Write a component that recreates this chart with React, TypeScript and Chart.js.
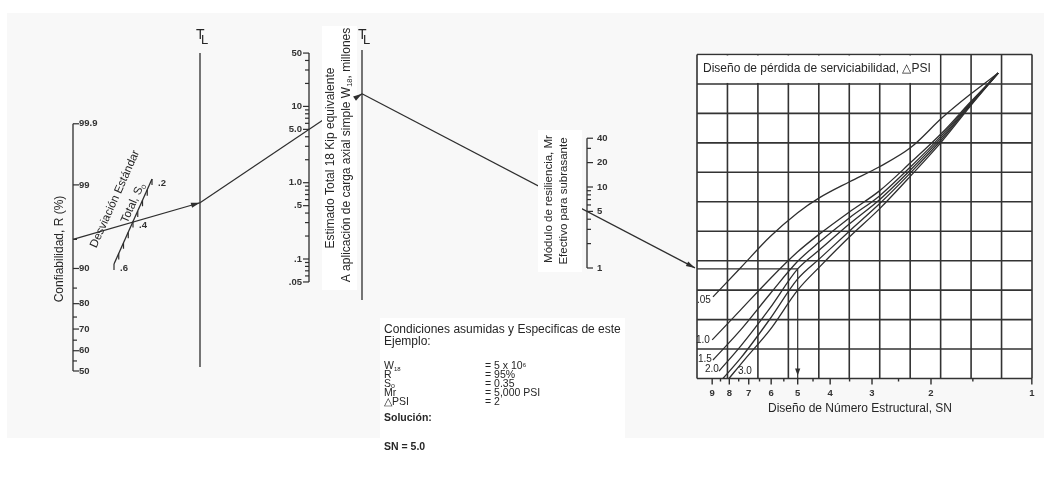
import { useEffect, useRef } from "react";
import { Chart, registerables } from "chart.js";
Chart.register(...registerables);

// ---------------- data ----------------
const reliabilityTicks = [99.9, 99, 95, 90, 85, 80, 75, 70, 65, 60, 55, 50];
const reliabilityLabels = [99.9, 99, 90, 80, 70, 60, 50];
const reliabilityText = ["99.9", "99", "90", "80", "70", "60", "50"];

const soTicks = [0.2, 0.25, 0.3, 0.35, 0.4, 0.45, 0.5, 0.55, 0.6];
const soLabels = [0.2, 0.4, 0.6];
const soText = [".2", ".4", ".6"];

const w18Ticks = [50, 40, 30, 20, 10, 9, 8, 7, 6, 5, 4, 3, 2, 1, 0.9, 0.8, 0.7, 0.6, 0.5, 0.4, 0.3, 0.2, 0.1, 0.09, 0.08, 0.07, 0.06, 0.05];
const w18Labels = [50, 10, 5, 1, 0.5, 0.1, 0.05];
const w18Text = ["50", "10", "5.0", "1.0", ".5", ".1", ".05"];

const mrTicks = [40, 30, 20, 10, 9, 8, 7, 6, 5, 4, 3, 2, 1];
const mrLabels = [40, 20, 10, 5, 1];
const mrText = ["40", "20", "10", "5", "1"];

const snTicks = [9, 8.5, 8, 7.5, 7, 6.5, 6, 5.5, 5, 4.5, 4, 3.5, 3, 2.5, 2, 1.5, 1];
const snLabels = [9, 8, 7, 6, 5, 4, 3, 2, 1];

// design curves (SN vs chart row units, 0 = bottom of grid, 11 = top)
const psiNames = [".05", "1.0", "1.5", "2.0", "2.5", "3.0"];
const psi05SN = [8.95, 7.4, 6.05, 5.0, 4.3, 3.5, 2.85, 2.3, 1.85, 1.53, 1.26];
const psi05Row = [2.77, 3.76, 4.81, 5.63, 6.14, 6.68, 7.19, 7.84, 8.86, 9.64, 10.37];
const psi10SN = [9.0, 7.4, 6.05, 5.0, 4.3, 3.5, 2.85, 2.3, 1.85, 1.53, 1.26];
const psi10Row = [1.31, 2.33, 3.38, 4.3, 4.91, 5.66, 6.37, 7.33, 8.35, 9.37, 10.37];
const psi15SN = [8.95, 7.4, 6.05, 5.0, 4.3, 3.5, 2.85, 2.3, 1.85, 1.53, 1.26];
const psi15Row = [0.63, 1.65, 2.87, 3.98, 4.64, 5.46, 6.2, 7.19, 8.28, 9.33, 10.37];
const psi20SN = [8.59, 7.4, 6.05, 5.0, 4.3, 3.5, 2.85, 2.3, 1.85, 1.53, 1.26];
const psi20Row = [0.25, 1.1, 2.39, 3.72, 4.37, 5.25, 6.07, 7.09, 8.21, 9.3, 10.37];
const psi25SN = [8.36, 7.4, 6.05, 5.0, 4.3, 3.5, 2.85, 2.3, 1.85, 1.53, 1.26];
const psi25Row = [0, 0.69, 2.02, 3.38, 4.07, 5.01, 5.93, 6.99, 8.14, 9.27, 10.37];
const psi30SN = [8.02, 7.18, 6.05, 5.0, 4.3, 3.5, 2.85, 2.3, 1.85, 1.53, 1.26];
const psi30Row = [0, 0.66, 1.65, 3.0, 3.79, 4.81, 5.76, 6.88, 8.07, 9.23, 10.37];
const psiSN = [psi05SN, psi10SN, psi15SN, psi20SN, psi25SN, psi30SN];
const psiRow = [psi05Row, psi10Row, psi15Row, psi20Row, psi25Row, psi30Row];

// worked example
const exR = 95;
const exSo = 0.35;
const exW18 = 5;
const exMr = 5;
const exPSI = "2.0";
const exSN = 5.0;

// ---------------- layout ----------------
const W = 1044, H = 487;
const FONT = '"Liberation Sans", Arial, sans-serif';
const INK = "#2e2e2e";
const TXT = "#262626";

const R_X = 73, R_ZERO = 371, R_UNIT = 80;
const TL1_X = 200, TL2_X = 362;
const W_X = 309, W_A = 182.7, W_B = 76.3;
const MR_X = 587, MR_A = 268, MR_B = 81;
const SO_TOP = { x: 152, y: 179 }, SO_BOT = { x: 114, y: 264 };
const G_LEFT = 697, G_RIGHT = 1032, G_TOP = 54.5, G_BOTTOM = 378.5, NCOL = 11, NROW = 11;
const SN_REF = 931, SN_B = 335;

function invNorm(p: number): number {
  const a = [-3.969683028665376e1, 2.209460984245205e2, -2.759285104469687e2, 1.38357751867269e2, -3.066479806614716e1, 2.506628277459239];
  const b = [-5.447609879822406e1, 1.615858368580409e2, -1.556989798598866e2, 6.680131188771972e1, -1.328068155288572e1];
  const c = [-7.784894002430293e-3, -3.223964580411365e-1, -2.400758277161838, -2.549732539343734, 4.374664141464968, 2.938163982698783];
  const d = [7.784695709041462e-3, 3.224671290700398e-1, 2.445134137142996, 3.754408661907416];
  const pl = 0.02425;
  let q: number, r: number;
  if (p < pl) {
    q = Math.sqrt(-2 * Math.log(p));
    return (((((c[0] * q + c[1]) * q + c[2]) * q + c[3]) * q + c[4]) * q + c[5]) / ((((d[0] * q + d[1]) * q + d[2]) * q + d[3]) * q + 1);
  }
  if (p <= 1 - pl) {
    q = p - 0.5; r = q * q;
    return ((((((a[0] * r + a[1]) * r + a[2]) * r + a[3]) * r + a[4]) * r + a[5]) * q) / (((((b[0] * r + b[1]) * r + b[2]) * r + b[3]) * r + b[4]) * r + 1);
  }
  q = Math.sqrt(-2 * Math.log(1 - p));
  return -(((((c[0] * q + c[1]) * q + c[2]) * q + c[3]) * q + c[4]) * q + c[5]) / ((((d[0] * q + d[1]) * q + d[2]) * q + d[3]) * q + 1);
}
const yR = (r: number) => R_ZERO - R_UNIT * invNorm(r / 100);
const yW = (w: number) => W_A - W_B * Math.log10(w);
const yMr = (m: number) => MR_A - MR_B * Math.log10(m);
const soPt = (s: number) => {
  const t = (s - 0.2) / 0.4;
  return { x: SO_TOP.x + (SO_BOT.x - SO_TOP.x) * t, y: SO_TOP.y + (SO_BOT.y - SO_TOP.y) * t };
};
const xSN = (sn: number) => SN_REF - SN_B * Math.log10(sn / 2);
const rowH = (G_BOTTOM - G_TOP) / NROW;
const colW = (G_RIGHT - G_LEFT) / NCOL;
const yRow = (r: number) => G_BOTTOM - r * rowH;
type P = { x: number; y: number };
const lineAt = (a: P, b: P, x: number) => a.y + ((b.y - a.y) * (x - a.x)) / (b.x - a.x);

// solution path (worked back from the design chart through the pivots)
const entryRow = psiRow[psiNames.indexOf(exPSI)][psiSN[psiNames.indexOf(exPSI)].indexOf(exSN)];
const P3 = { x: G_LEFT, y: yRow(entryRow) };
const Mp = { x: MR_X, y: yMr(exMr) };
const P2 = { x: TL2_X, y: lineAt(P3, Mp, TL2_X) };
const Wp = { x: W_X, y: yW(exW18) };
const P1 = { x: TL1_X, y: lineAt(P2, Wp, TL1_X) };
const Rp = { x: R_X, y: yR(exR) };
const Sx = xSN(exSN);

type Run = { t: string; size: number; dy?: number; bold?: boolean };

export default function App() {
  const ref = useRef<HTMLCanvasElement>(null);
  useEffect(() => {
    const canvas = ref.current!;
    const lineDs = (pts: P[], width = 1.3, extra: any = {}) => ({
      data: pts.map((p) => ({ x: p.x, y: p.y })),
      showLine: true,
      borderColor: INK,
      borderWidth: width,
      pointRadius: 0,
      fill: false,
      ...extra,
    });

    const datasets: any[] = [
      lineDs([{ x: R_X, y: yR(99.9) }, { x: R_X, y: yR(50) }]),
      lineDs([{ x: TL1_X, y: 53 }, { x: TL1_X, y: 367 }]),
      lineDs([{ x: TL2_X, y: 50 }, { x: TL2_X, y: 300 }]),
      lineDs([{ x: W_X, y: yW(50) }, { x: W_X, y: yW(0.05) }]),
      lineDs([{ x: MR_X, y: yMr(40) }, { x: MR_X, y: yMr(1) }]),
      lineDs([soPt(0.2), soPt(0.6)]),
      lineDs([Rp, P1], 1.2),
      lineDs([P1, P2], 1.2),
      lineDs([P2, { x: G_LEFT - 2, y: lineAt(P2, Mp, G_LEFT - 2) }], 1.2),
      lineDs([P3, { x: Sx, y: P3.y }, { x: Sx, y: G_BOTTOM }], 1.2),
    ];
    psiSN.forEach((sns, i) => {
      datasets.push(
        lineDs(
          sns.map((s, k) => ({ x: xSN(s), y: yRow(psiRow[i][k]) })),
          1.3,
          { cubicInterpolationMode: "monotone" }
        )
      );
    });

    const drawRuns = (ctx: CanvasRenderingContext2D, runs: Run[], x: number, y: number, align: "left" | "center" | "right", rot = 0, color = TXT) => {
      ctx.save();
      ctx.translate(x, y);
      ctx.rotate(rot);
      ctx.textBaseline = "middle";
      ctx.textAlign = "left";
      ctx.fillStyle = color;
      const widths = runs.map((r) => {
        ctx.font = `${r.bold ? "bold " : ""}${r.size}px ${FONT}`;
        return ctx.measureText(r.t).width;
      });
      const total = widths.reduce((a, b) => a + b, 0);
      let cx = align === "left" ? 0 : align === "center" ? -total / 2 : -total;
      runs.forEach((r, i) => {
        ctx.font = `${r.bold ? "bold " : ""}${r.size}px ${FONT}`;
        ctx.fillText(r.t, cx, r.dy || 0);
        cx += widths[i];
      });
      ctx.restore();
    };

    const plugin = {
      id: "nomograph",
      beforeDatasetsDraw(chart: any) {
        const ctx: CanvasRenderingContext2D = chart.ctx;
        const X = (v: number) => chart.scales.x.getPixelForValue(v);
        const Y = (v: number) => chart.scales.y.getPixelForValue(v);
        ctx.save();
        ctx.fillStyle = "#ffffff";
        ctx.fillRect(0, 0, W, H);
        ctx.fillStyle = "#f8f8f8";
        ctx.fillRect(X(7), Y(13), X(1044) - X(7), Y(438) - Y(13));
        // chart interior
        ctx.fillStyle = "#ffffff";
        ctx.fillRect(X(G_LEFT), Y(G_TOP), X(G_RIGHT) - X(G_LEFT), Y(G_BOTTOM) - Y(G_TOP));
        // grid
        ctx.strokeStyle = "#333";
        ctx.lineWidth = 1.6;
        ctx.beginPath();
        for (let i = 0; i <= NCOL; i++) {
          const x = X(G_LEFT + i * colW);
          ctx.moveTo(x, Y(G_TOP));
          ctx.lineTo(x, Y(G_BOTTOM));
        }
        for (let j = 0; j <= NROW; j++) {
          const y = Y(G_TOP + j * rowH);
          ctx.moveTo(X(G_LEFT), y);
          ctx.lineTo(X(G_RIGHT), y);
        }
        ctx.stroke();
        // header box
        const hx0 = X(G_LEFT), hx1 = X(G_LEFT + 8 * colW), hy0 = Y(G_TOP), hy1 = Y(G_TOP + rowH);
        ctx.fillStyle = "#ffffff";
        ctx.fillRect(hx0 + 1, hy0 + 1, hx1 - hx0 - 2, hy1 - hy0 - 2);
        ctx.restore();
        drawRuns(ctx, [{ t: "Diseño de pérdida de serviciabilidad, △PSI", size: 12 }], X(G_LEFT + 6), Y(G_TOP + 14), "left");
      },
      afterDatasetsDraw(chart: any) {
        const ctx: CanvasRenderingContext2D = chart.ctx;
        const X = (v: number) => chart.scales.x.getPixelForValue(v);
        const Y = (v: number) => chart.scales.y.getPixelForValue(v);
        const seg = (x1: number, y1: number, x2: number, y2: number) => {
          ctx.beginPath();
          ctx.moveTo(X(x1), Y(y1));
          ctx.lineTo(X(x2), Y(y2));
          ctx.stroke();
        };
        const arrow = (from: P, to: P, len = 9, half = 2.6) => {
          const x1 = X(from.x), y1 = Y(from.y), x2 = X(to.x), y2 = Y(to.y);
          const a = Math.atan2(y2 - y1, x2 - x1);
          ctx.beginPath();
          ctx.moveTo(x2, y2);
          ctx.lineTo(x2 - len * Math.cos(a) + half * Math.sin(a), y2 - len * Math.sin(a) - half * Math.cos(a));
          ctx.lineTo(x2 - len * Math.cos(a) - half * Math.sin(a), y2 - len * Math.sin(a) + half * Math.cos(a));
          ctx.closePath();
          ctx.fill();
        };
        ctx.save();
        ctx.strokeStyle = INK;
        ctx.fillStyle = INK;
        ctx.lineWidth = 1.2;

        // white label panels hiding the construction lines
        ctx.fillStyle = "#ffffff";
        ctx.fillRect(X(322), Y(26), X(357) - X(322), Y(290) - Y(26));
        ctx.fillRect(X(538), Y(130), X(582) - X(538), Y(272) - Y(130));
        ctx.fillRect(X(380), Y(318), X(625) - X(380), Y(438) - Y(318));
        ctx.fillStyle = INK;

        // reliability scale
        reliabilityTicks.forEach((v) => {
          const len = reliabilityLabels.includes(v) ? 6 : 4;
          seg(R_X, yR(v), R_X + len, yR(v));
        });
        reliabilityLabels.forEach((v, i) => drawRuns(ctx, [{ t: reliabilityText[i], size: 9.5, bold: true }], X(R_X + 6), Y(yR(v)), "left", 0, "#333"));
        drawRuns(ctx, [{ t: "Confiabilidad, R (%)", size: 12 }], X(60), Y(249), "center", -Math.PI / 2);

        // standard deviation scale
        soTicks.forEach((v) => {
          const p = soPt(v);
          seg(p.x, p.y, p.x, p.y + 6);
        });
        soLabels.forEach((v, i) => {
          const p = soPt(v);
          drawRuns(ctx, [{ t: soText[i], size: 9.5, bold: true }], X(p.x + 6), Y(p.y + 4), "left", 0, "#333");
        });
        const soAng = Math.atan2(SO_TOP.y - SO_BOT.y, SO_TOP.x - SO_BOT.x);
        drawRuns(ctx, [{ t: "Desviación Estándar", size: 11.5 }], X(115), Y(199), "center", soAng);
        drawRuns(ctx, [{ t: "Total, S", size: 11.5 }, { t: "o", size: 8, dy: 3 }], X(133), Y(203), "center", soAng);

        // turning lines
        const tl = (x: number) => {
          drawRuns(ctx, [{ t: "T", size: 14 }], X(x - 4), Y(35), "left");
          drawRuns(ctx, [{ t: "L", size: 13 }], X(x + 1), Y(40), "left");
        };
        tl(TL1_X);
        tl(TL2_X);

        // W18 scale
        w18Ticks.forEach((v) => {
          const len = w18Labels.includes(v) ? 6 : 4;
          seg(W_X - len, yW(v), W_X, yW(v));
        });
        w18Labels.forEach((v, i) => drawRuns(ctx, [{ t: w18Text[i], size: 9.5, bold: true }], X(W_X - 7), Y(yW(v)), "right", 0, "#333"));
        drawRuns(ctx, [{ t: "Estimado Total 18 Kip equivalente", size: 12 }], X(331), Y(158), "center", -Math.PI / 2);
        drawRuns(ctx, [{ t: "A aplicación de carga axial simple W", size: 12 }, { t: "18", size: 7.5, dy: 3 }, { t: ", millones", size: 12 }], X(347), Y(155), "center", -Math.PI / 2);

        // Mr scale
        mrTicks.forEach((v) => {
          const len = mrLabels.includes(v) ? 6 : 4;
          seg(MR_X, yMr(v), MR_X + len, yMr(v));
        });
        mrLabels.forEach((v, i) => drawRuns(ctx, [{ t: mrText[i], size: 9.5, bold: true }], X(MR_X + 10), Y(yMr(v)), "left", 0, "#333"));
        drawRuns(ctx, [{ t: "Módulo de resiliencia, Mr", size: 11.5 }], X(549), Y(199), "center", -Math.PI / 2);
        drawRuns(ctx, [{ t: "Efectivo para subrasante", size: 11.5 }], X(564), Y(201), "center", -Math.PI / 2);

        // SN axis
        ctx.lineWidth = 1.4;
        snTicks.forEach((v) => {
          const len = Number.isInteger(v) ? 6 : 3;
          seg(xSN(v), G_BOTTOM, xSN(v), G_BOTTOM + len);
        });
        snLabels.forEach((v) => drawRuns(ctx, [{ t: String(v), size: 9.5, bold: true }], X(xSN(v)), Y(G_BOTTOM + 15), "center", 0, "#333"));
        drawRuns(ctx, [{ t: "Diseño de Número Estructural, SN", size: 12 }], X(860), Y(409), "center");

        // curve labels
        const lblPos: P[] = [
          { x: 697, y: 300 }, { x: 696, y: 340 }, { x: 698, y: 359 }, { x: 705, y: 369 }, { x: -1, y: 0 }, { x: 738, y: 371 },
        ];
        psiNames.forEach((n, i) => {
          if (lblPos[i].x < 0) return;
          drawRuns(ctx, [{ t: n, size: 10 }], X(lblPos[i].x), Y(lblPos[i].y), "left");
        });

        // arrows
        arrow(Rp, P1);
        arrow(P1, P2);
        arrow(P2, { x: G_LEFT - 2, y: lineAt(P2, Mp, G_LEFT - 2) });
        arrow({ x: Sx, y: P3.y }, { x: Sx, y: G_BOTTOM - 3 }, 7, 2.6);

        // example text block
        drawRuns(ctx, [{ t: "Condiciones asumidas y Especificas de este", size: 12 }], X(384), Y(330), "left");
        drawRuns(ctx, [{ t: "Ejemplo:", size: 12 }], X(384), Y(342), "left");
        const rowsY = [366, 375, 384, 393, 402];
        const fs = 10.5;
        const lab: Run[][] = [
          [{ t: "W", size: fs }, { t: "18", size: 6, dy: 3 }],
          [{ t: "R", size: fs }],
          [{ t: "S", size: fs }, { t: "o", size: 7, dy: 2.5 }],
          [{ t: "Mr", size: fs }],
          [{ t: "△PSI", size: fs }],
        ];
        const val: Run[][] = [
          [{ t: `= ${exW18} x 10`, size: fs }, { t: "6", size: 6, dy: -1 }],
          [{ t: `= ${exR}%`, size: fs }],
          [{ t: `= ${exSo.toFixed(2)}`, size: fs }],
          [{ t: `= ${(exMr * 1000).toLocaleString("en-US")} PSI`, size: fs }],
          [{ t: `= ${parseFloat(exPSI)}`, size: fs }],
        ];
        rowsY.forEach((yy, i) => {
          drawRuns(ctx, lab[i], X(384), Y(yy), "left");
          drawRuns(ctx, val[i], X(485), Y(yy), "left");
        });
        drawRuns(ctx, [{ t: "Solución:", size: 10.5, bold: true }], X(384), Y(418), "left");
        drawRuns(ctx, [{ t: `SN = ${exSN.toFixed(1)}`, size: 10.5, bold: true }], X(384), Y(447), "left");
        ctx.restore();
      },
    };

    const chart = new Chart(canvas, {
      type: "scatter",
      data: { datasets },
      options: {
        animation: false,
        responsive: false,
        maintainAspectRatio: false,
        devicePixelRatio: 1,
        events: [],
        layout: { padding: 0 },
        plugins: { legend: { display: false }, tooltip: { enabled: false } },
        scales: {
          x: { type: "linear", min: 0, max: W, display: false },
          y: { type: "linear", min: 0, max: H, reverse: true, display: false },
        },
      },
      plugins: [plugin],
    } as any);
    return () => chart.destroy();
  }, []);

  return (
    <div style={{ position: "absolute", left: 0, top: 0, width: W, height: H, background: "#fff" }}>
      <canvas ref={ref} width={W} height={H} style={{ display: "block", width: W, height: H }} />
    </div>
  );
}
